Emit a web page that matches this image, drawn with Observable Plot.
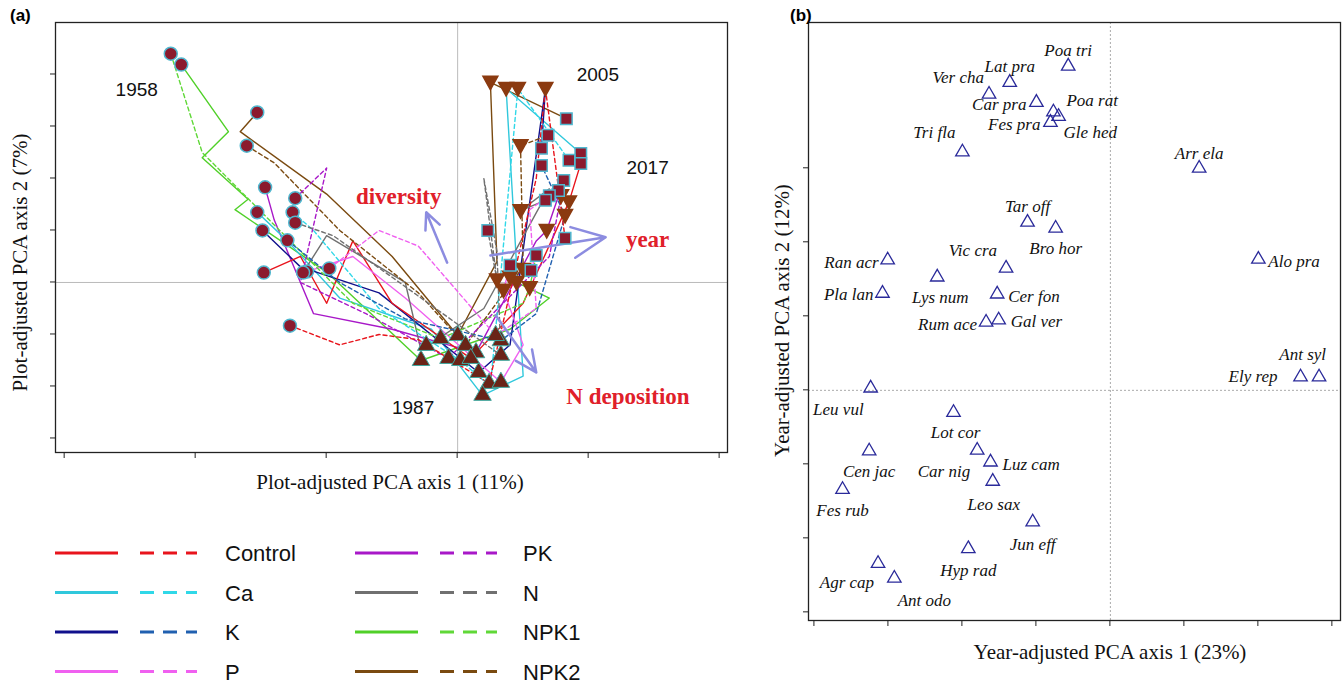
<!DOCTYPE html>
<html><head><meta charset="utf-8">
<script src="https://cdn.jsdelivr.net/npm/d3@7"></script>
<script src="https://cdn.jsdelivr.net/npm/@observablehq/plot@0.6"></script>
<style>
body{margin:0;background:#fff;width:1342px;height:687px;overflow:hidden;position:relative;font-family:"Liberation Sans",Arial,sans-serif}
.abs{position:absolute}
.ser{font-family:"Liberation Serif","Times New Roman",serif;font-size:21px;color:#111}
.pl{font-weight:bold;font-size:17px}
</style></head><body>
<script>
// ---------- DATA ----------
const treatments = ["Control","Ca","K","P","PK","N","NPK1","NPK2"];
const solidColors = ["#e8141c","#30c8dc","#10108c","#f060f0","#a818c8","#707070","#50d028","#7a4a10"];
const dashColors  = ["#e8141c","#30d8e8","#2060b0","#f060f0","#a818c8","#707070","#60d838","#7a4a10"];
// trajectories (plot-adjusted PCA units)
const trajTreat = ["NPK1","NPK1","NPK2","NPK2","PK","PK","Ca","Ca","K","K","Control","Control","P","P","N","N"];
const trajDashed = [true,false,false,true,false,true,false,true,false,true,false,true,false,true,false,true];
const trajPts = [
"-2.19,4.40 -1.95,2.5 -1.2,0.6 -0.8,-0.4 -0.13,-1.08 0.5,-0.4 0.55,-0.1 0.6,0.52",
"-2.11,4.19 -1.75,2.9 -1.95,2.4 -1.6,1.6 -1.7,1.4 -1.0,0.2 -0.28,-1.5 0.4,-0.9 0.7,-0.3 0.45,0.0 0.56,0.23",
"-1.53,3.27 -1.66,2.9 -1.0,1.7 -0.5,0.5 0.0,-1.02 0.3,0.4 0.25,3.85 0.83,3.15",
"-1.61,2.63 -1.4,2.3 -0.9,1.0 -0.3,-0.2 0.06,-1.21 0.5,0.3 0.48,2.63 0.69,2.83",
"-1.47,1.83 -1.4,1.2 -1.1,-0.6 -0.5,-0.9 0.14,-1.35 0.6,0.8 0.68,1.0 0.81,1.96",
"-1.24,1.62 -1.0,2.2 -1.2,0.0 -0.7,-0.6 -0.07,-1.46 0.7,0.5 0.79,1.67 0.77,1.77",
"-1.53,1.35 -1.3,0.8 -0.9,-0.3 -0.2,-0.9 0.19,-2.17 0.5,-1.8 0.37,3.73 0.94,2.48",
"-1.26,1.35 -1.1,1.0 -0.6,-0.5 0.02,-1.5 0.25,-2.0 0.46,3.73 0.85,2.35",
"-1.49,1.0 -1.2,0.3 -0.6,-0.2 0.16,-1.73 0.4,-1.2 0.67,3.73 0.64,2.58",
"-1.30,0.81 -0.9,0.0 -0.4,-0.7 0.33,-1.12 0.6,-0.6 0.82,1.29 0.64,2.25",
"-1.48,0.19 -1.2,0.5 -1.0,-0.4 -0.8,0.8 -0.5,-0.4 0.1,-1.46 0.5,-0.4 0.85,1.55 0.94,2.29",
"-1.28,-0.83 -0.9,-1.2 -0.6,-1.0 -0.3,-1.1 0.24,-1.94 0.6,2.0 0.67,3.73 0.82,0.85",
"-1.15,0.21 -0.8,0.5 -0.4,-0.3 0.33,-1.92 0.5,-1.2 0.35,-0.15 0.4,0.33",
"-0.98,0.27 -0.6,1.0 -0.3,0.7 0.29,-1.02 0.6,-0.5 0.55,1.4 0.70,1.67",
"-1.18,0.19 -1.0,0.9 -0.4,0.0 -0.28,-1.3 0.2,-0.5 0.7,1.8 0.48,1.38 0.67,1.58",
"-1.24,1.15 -0.95,0.9 -0.5,0.1 0.33,-1.4 0.3,0.6 0.2,2.0 0.30,0.05 0.23,1.0"
];
const y1958 = [[-2.19,4.40],[-2.11,4.19],[-1.53,3.27],[-1.61,2.63],[-1.47,1.83],[-1.24,1.62],[-1.53,1.35],[-1.26,1.35],[-1.49,1.0],[-1.30,0.81],[-1.48,0.19],[-1.15,0.21],[-0.98,0.27],[-1.28,-0.83],[-1.18,0.19],[-1.24,1.15]];
const y1987 = [[-0.24,-1.21],[-0.13,-1.08],[0,-1.02],[0.06,-1.21],[-0.07,-1.46],[0.02,-1.5],[0.16,-1.73],[0.14,-1.35],[0.33,-1.12],[0.33,-1.4],[0.24,-1.94],[0.33,-1.92],[0.19,-2.17],[0.1,-1.46],[-0.28,-1.5],[0.29,-1.02]];
const y2005 = [[0.25,3.85],[0.37,3.73],[0.46,3.73],[0.67,3.73],[0.48,2.63],[0.48,1.38],[0.79,1.67],[0.82,1.29],[0.68,1.0],[0.85,1.55],[0.35,-0.15],[0.45,0.0],[0.50,0.25],[0.30,0.05],[0.55,-0.1],[0.4,0.1]];
const y2017 = [[0.83,3.15],[0.69,2.83],[0.64,2.58],[0.94,2.48],[0.85,2.35],[0.64,2.25],[0.81,1.96],[0.77,1.77],[0.70,1.67],[0.82,0.85],[0.23,1.0],[0.6,0.52],[0.40,0.33],[0.56,0.23],[0.94,2.29],[0.67,1.58]];
const vectorNames = ["diversity","year","N deposition"];
const vectorFrom = [[-0.08,0.38],[0.25,0.52],[0.29,-0.63]];
const vectorTo = [[-0.24,1.35],[1.13,0.87],[0.6,-1.73]];
const yearLabels = ["1958","2005","2017","1987"];
const yearLabelPos = [[-2.45,3.7],[1.07,4.0],[1.45,2.2],[-0.34,-2.42]];
const vecLabelPos = [[-0.45,1.65],[1.45,0.82],[1.3,-2.2]];
const ticksA_x = [-3,-2,-1,0,1,2];
const ticksA_y = [-3,-2,-1,0,1,2,3,4];
// species scores (year-adjusted PCA units)
const species = ["Poa tri","Lat pra","Ver cha","Car pra","Poa rat","Gle hed","Fes pra","Tri fla","Arr ela","Tar off","Bro hor","Vic cra","Ran acr","Lys num","Alo pra","Pla lan","Cer fon","Rum ace","Gal ver","Ant syl","Ely rep","Leu vul","Lot cor","Car nig","Luz cam","Cen jac","Leo sax","Fes rub","Jun eff","Hyp rad","Agr cap","Ant odo"];
const spX = [-0.57,-1.36,-1.64,-1.0,-0.77,-0.70,-0.81,-2.0,1.20,-1.12,-0.74,-1.41,-3.01,-2.34,2.0,-3.08,-1.53,-1.68,-1.51,2.82,2.57,-3.24,-2.12,-1.80,-1.62,-3.26,-1.59,-3.62,-1.05,-1.92,-3.14,-2.92];
const spY = [4.38,4.16,4.0,3.89,3.76,3.70,3.62,3.22,3.0,2.27,2.19,1.65,1.76,1.53,1.77,1.31,1.30,0.92,0.95,0.18,0.18,0.03,-0.30,-0.81,-0.97,-0.82,-1.23,-1.34,-1.78,-2.14,-2.34,-2.54];
const ticksB = [-4,-3,-2,-1,0,1,2,3];
</script>
<script>
// ---------- label placement (styling) ----------
const spLab = {"Poa tri":[0,-16,"middle"],"Lat pra":[0,-16,"middle"],"Ver cha":[-5,-17,"end"],"Car pra":[-10,2,"end"],
"Poa rat":[13,-12,"start"],"Gle hed":[5,16,"start"],"Fes pra":[-10,2,"end"],"Tri fla":[-7,-19,"end"],"Arr ela":[0,-15,"middle"],
"Tar off":[0,-16,"middle"],"Bro hor":[0,20,"middle"],"Vic cra":[-9,-18,"end"],"Ran acr":[-9,2,"end"],"Lys num":[3,20,"middle"],
"Alo pra":[10,2,"start"],"Pla lan":[-9,1,"end"],"Cer fon":[11,2,"start"],"Rum ace":[-9,2,"end"],"Gal ver":[12,2,"start"],
"Ant syl":[7,-22,"end"],"Ely rep":[-23,0,"end"],"Leu vul":[-7,21,"end"],"Lot cor":[2,20,"middle"],"Car nig":[-7,21,"end"],
"Luz cam":[12,2,"start"],"Cen jac":[0,21,"middle"],"Leo sax":[1,23,"middle"],"Fes rub":[0,21,"middle"],"Jun eff":[0,22,"middle"],
"Hyp rad":[0,22,"middle"],"Agr cap":[-4,19,"end"],"Ant odo":[30,22,"middle"]};

const colorOf = (t,d)=> (d?dashColors:solidColors)[treatments.indexOf(t)];
const rows = [];
trajPts.forEach((s,i)=>s.split(" ").forEach(p=>{const [x,y]=p.split(",").map(Number);rows.push({id:i,x,y,d:trajDashed[i],c:colorOf(trajTreat[i],trajDashed[i])});}));
const invTri = {draw(ctx,size){const s=Math.sqrt(size/0.6)/2;ctx.moveTo(-s,-s*0.8);ctx.lineTo(s,-s*0.8);ctx.lineTo(0,s);ctx.closePath();}};
const mk = a=>a.map(([x,y])=>({x,y}));
const frameA = [-3.07,2.06], frameAy=[-3.27,5.0];
const plotA = Plot.plot({
  width:740,height:500,marginLeft:55,marginRight:13,marginTop:22,marginBottom:48,
  x:{domain:frameA,axis:null},y:{domain:frameAy,axis:null},
  marks:[
    Plot.ruleX([0],{stroke:"#bbb"}),Plot.ruleY([0],{stroke:"#bbb"}),
    Plot.line(rows.filter(r=>!r.d),{x:"x",y:"y",z:"id",stroke:"c",strokeWidth:1.4}),
    Plot.line(rows.filter(r=>r.d),{x:"x",y:"y",z:"id",stroke:"c",strokeWidth:1.4,strokeDasharray:"4,3"}),
    Plot.arrow(vectorNames,{x1:(d,i)=>vectorFrom[i][0],y1:(d,i)=>vectorFrom[i][1],x2:(d,i)=>vectorTo[i][0],y2:(d,i)=>vectorTo[i][1],stroke:"#8c8ce0",strokeWidth:2.5,headLength:22,headAngle:50}),
    Plot.dot(mk(y1958),{x:"x",y:"y",r:6.5,fill:"#8b1a2e",stroke:"#50b8d0",strokeWidth:1.5}),
    Plot.dot(mk(y1987),{x:"x",y:"y",symbol:"triangle",r:6.5,fill:"#6a2418",stroke:"#40a8a0",strokeWidth:1}),
    Plot.dot(mk(y2005),{x:"x",y:"y",symbol:invTri,r:6.5,fill:"#8b3a10",stroke:"#8b3a10"}),
    Plot.dot(mk(y2017),{x:"x",y:"y",symbol:"square",r:6.5,fill:"#8b1a2e",stroke:"#50b8d0",strokeWidth:1.5}),
    Plot.text(yearLabels,{x:(d,i)=>yearLabelPos[i][0],y:(d,i)=>yearLabelPos[i][1],text:d=>d,fontSize:19,fill:"#111",fontFamily:"Liberation Sans"}),
    Plot.text(vectorNames,{x:(d,i)=>vecLabelPos[i][0],y:(d,i)=>vecLabelPos[i][1],text:d=>d,fontSize:23,fontWeight:"bold",fill:"#e0202a",fontFamily:"Liberation Serif"}),
    Plot.frame({stroke:"#222",strokeWidth:1.3}),
  ]
});
const holderA=document.createElement("div");holderA.className="abs";holderA.style.left="0px";holderA.style.top="0px";holderA.appendChild(plotA);document.body.appendChild(holderA);

const frameB=[-4.08,3.11], frameBy=[-3.11,4.97];
const sp = species.map((n,i)=>({n,x:spX[i],y:spY[i],dx:spLab[n][0],dy:spLab[n][1],a:spLab[n][2]}));
const plotB = Plot.plot({
  width:582,height:660,marginLeft:48,marginRight:2,marginTop:22,marginBottom:40,
  x:{domain:frameB,axis:null},y:{domain:frameBy,axis:null},
  marks:[
    Plot.ruleX([0],{stroke:"#aaa",strokeDasharray:"2,2"}),Plot.ruleY([0],{stroke:"#aaa",strokeDasharray:"2,2"}),
    Plot.dot(sp,{x:"x",y:"y",symbol:"triangle",r:5,stroke:"#2a2a9a",strokeWidth:1.3,fill:"none"}),
    ...["start","middle","end"].map(a=>Plot.text(sp.filter(s=>s.a===a),{x:"x",y:"y",text:"n",textAnchor:a,fontSize:17,fontStyle:"italic",fontFamily:"Liberation Serif",fill:"#111",
       render:(i,s,v,dims,ctx,next)=>{const g=next(i,s,v,dims,ctx);const arr=sp.filter(q=>q.a===a);d3.select(g).selectAll("text").each(function(_,k){const d=arr[i[k]];this.setAttribute("transform",`translate(${s.x(d.x)+d.dx},${s.y(d.y)+d.dy})`);});return g;}})),
    Plot.frame({stroke:"#222",strokeWidth:1.3}),
  ]
});
const holderB=document.createElement("div");holderB.className="abs";holderB.style.left="760px";holderB.style.top="0px";holderB.appendChild(plotB);document.body.appendChild(holderB);
</script>
<div class="abs pl" style="left:10px;top:6px">(a)</div>
<div class="abs pl" style="left:790px;top:6px">(b)</div>
<div class="abs ser" style="left:-130px;top:250px;width:300px;text-align:center;transform:rotate(-90deg)">Plot-adjusted PCA axis 2 (7%)</div>
<div class="abs ser" style="left:190px;top:470px;width:400px;text-align:center">Plot-adjusted PCA axis 1 (11%)</div>
<div class="abs ser" style="left:632px;top:308px;width:300px;text-align:center;transform:rotate(-90deg)">Year-adjusted PCA axis 2 (12%)</div>
<div class="abs ser" style="left:870px;top:640px;width:480px;text-align:center">Year-adjusted PCA axis 1 (23%)</div>
<svg id="leg" class="abs" style="left:0;top:530px" width="760" height="157"></svg>
<script>
const leg=d3.select("#leg");
treatments.forEach((t,i)=>{
  const col=Math.floor(i/4),row=i%4;const x0=col?355:55,y=23+row*39.5;
  leg.append("line").attr("x1",x0).attr("x2",x0+63).attr("y1",y).attr("y2",y).attr("stroke",solidColors[i]).attr("stroke-width",3);
  leg.append("line").attr("x1",x0+85).attr("x2",x0+142).attr("y1",y).attr("y2",y).attr("stroke",dashColors[i]).attr("stroke-width",3).attr("stroke-dasharray","14,9");
  leg.append("text").attr("x",col?523:225).attr("y",y+8).text(t).attr("font-size",22).attr("font-family","Liberation Sans").attr("fill","#111");
});
function ticks(holder,xs,ys,xd,yd,x0,x1,y0,y1){
  const svg=d3.select(holder).select("svg");
  const xs_=d3.scaleLinear(xd,[x0,x1]), ys_=d3.scaleLinear(yd,[y1,y0]);
  xs.forEach(v=>svg.append("line").attr("x1",xs_(v)).attr("x2",xs_(v)).attr("y1",y1).attr("y2",y1+6).attr("stroke","#222"));
  ys.forEach(v=>svg.append("line").attr("x1",x0).attr("x2",x0-5).attr("y1",ys_(v)).attr("y2",ys_(v)).attr("stroke","#222"));
}
ticks(holderA,ticksA_x,ticksA_y,frameA,frameAy,55,727,22,452);
ticks(holderB,ticksB,ticksB,frameB,frameBy,48,580,22,620);
</script>
</body></html>
